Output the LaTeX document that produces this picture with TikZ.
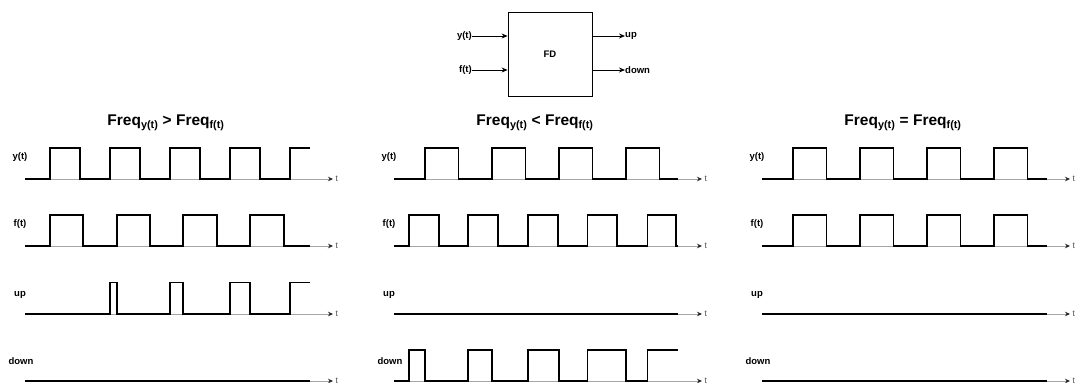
\documentclass[tikz,border=0pt]{standalone}
\usepackage{fontspec}
\setmainfont{Liberation Sans}
\usetikzlibrary{arrows.meta}
\newcommand\axisrow[2]{%
  \coordinate (#1s) at (25,#2);
  \node[tlbl] (#1t) at (333,#2) {t};
  \draw[axis] (#1s) -- (#1t.west);
}
\begin{document}
\begin{tikzpicture}[x=1pt,y=-1pt,
  lbl/.style={font=\bfseries\fontsize{9.5}{11}\selectfont, inner sep=0pt},
  ttl/.style={font=\bfseries\fontsize{15.5}{17}\selectfont, inner sep=0pt},
  axis/.style={draw=black!35, line width=0.8pt, -{Stealth[length=5pt,width=4.5pt,color=black!85]}},
  wave/.style={draw=black, line width=1.8pt, line join=miter, line cap=butt},
  tlbl/.style={font=\fontsize{8.5}{9}\selectfont, text=black!70, inner xsep=2.5pt, inner ysep=0pt, anchor=west},
  arr/.style={draw=black, line width=0.8pt, -{Stealth[length=6pt,width=5pt]}},
  box/.style={draw=black, line width=0.8pt, minimum width=84pt, minimum height=84pt, inner sep=0pt}]
\useasboundingbox (0,0) rectangle (1077,383);

% ---------------- FD block ----------------
\node[box, font=\bfseries\fontsize{9.5}{11}\selectfont] (fd) at (550,54) {FD};
\node[lbl, anchor=east] (yin) at (472,36) {y(t)};
\node[lbl, anchor=east] (fin) at (472,70) {f(t)};
\node[lbl, anchor=west] (uout) at (625,36) {up};
\node[lbl, anchor=west] (dout) at (625,70) {down};
\draw[arr] (yin.east) -- (fd.west |- yin.east);
\draw[arr] (fin.east) -- (fd.west |- fin.east);
\draw[arr] (fd.east |- uout.west) -- (uout.west);
\draw[arr] (fd.east |- dout.west) -- (dout.west);

% ---------------- Panel 1 ----------------
\begin{scope}
\node[ttl] (t1) at (166,123) {Freq\textsubscript{y(t)} > Freq\textsubscript{f(t)}};
\node[lbl] (l1y) at (20,157) {y(t)};
\node[lbl] (l1f) at (20,224) {f(t)};
\node[lbl] (l1u) at (20,295) {up};
\node[lbl] (l1d) at (21,361) {down};
\axisrow{a1y}{179}
\axisrow{a1f}{246}
\axisrow{a1u}{314}
\axisrow{a1d}{381}
\draw[wave] (25,179) -| (50,148) -| (80,179) -| (110,148) -| (140,179) -| (170,148)
  -| (200,179) -| (230,148) -| (260,179) -| (290,148) -- (310,148);
\draw[wave] (25,246) -| (50,215) -| (83,246) -| (117,215) -| (150,246) -| (183,215)
  -| (217,246) -| (250,215) -| (284,246) -- (310,246);
\draw[wave] (25,314) -| (110,282.5) -| (117,314) -| (170,282.5) -| (183,314)
  -| (230,282.5) -| (250,314) -| (290,282.5) -- (310,282.5);
\draw[wave] (25,381) -- (310,381);
\end{scope}

% ---------------- Panel 2 ----------------
\begin{scope}[xshift=369pt]
\node[ttl] (t2) at (166,123) {Freq\textsubscript{y(t)} < Freq\textsubscript{f(t)}};
\node[lbl] (l2y) at (20,157) {y(t)};
\node[lbl] (l2f) at (20,224) {f(t)};
\node[lbl] (l2u) at (20,295) {up};
\node[lbl] (l2d) at (21,361) {down};
\axisrow{a2y}{179}
\axisrow{a2f}{246}
\axisrow{a2u}{314}
\axisrow{a2d}{381}
\draw[wave] (25,179) -| (56,148) -| (89.5,179) -| (123,148) -| (156.5,179) -| (190,148)
  -| (223.5,179) -| (257,148) -| (290.5,179) -- (309,179);
\draw[wave] (25,246) -| (40,215) -| (70,246) -| (99.3,215) -| (129.3,246) -| (159,215)
  -| (189,246) -| (218.5,215) -| (248.3,246) -| (278.5,215) -| (307,246) -- (309,246);
\draw[wave] (25,314) -- (309,314);
\draw[wave] (25,381) -| (40,350) -| (56,381) -| (99.3,350) -| (123,381) -| (159,350)
  -| (190,381) -| (218.5,350) -| (257,381) -| (278.5,350) -- (309,350);
\end{scope}

% ---------------- Panel 3 ----------------
\begin{scope}[xshift=737pt]
\node[ttl] (t3) at (166,123) {Freq\textsubscript{y(t)} = Freq\textsubscript{f(t)}};
\node[lbl] (l3y) at (20,157) {y(t)};
\node[lbl] (l3f) at (20,224) {f(t)};
\node[lbl] (l3u) at (20,295) {up};
\node[lbl] (l3d) at (21,361) {down};
\axisrow{a3y}{179}
\axisrow{a3f}{246}
\axisrow{a3u}{314}
\axisrow{a3d}{381}
\draw[wave] (25,179) -| (56,148) -| (89.5,179) -| (123,148) -| (156.5,179) -| (190,148)
  -| (223.5,179) -| (257,148) -| (290.5,179) -- (309.5,179);
\draw[wave] (25,246) -| (56,215) -| (89.5,246) -| (123,215) -| (156.5,246) -| (190,215)
  -| (223.5,246) -| (257,215) -| (290.5,246) -- (309.5,246);
\draw[wave] (25,314) -- (309.5,314);
\draw[wave] (25,381) -- (309.5,381);
\end{scope}
\end{tikzpicture}
\end{document}
